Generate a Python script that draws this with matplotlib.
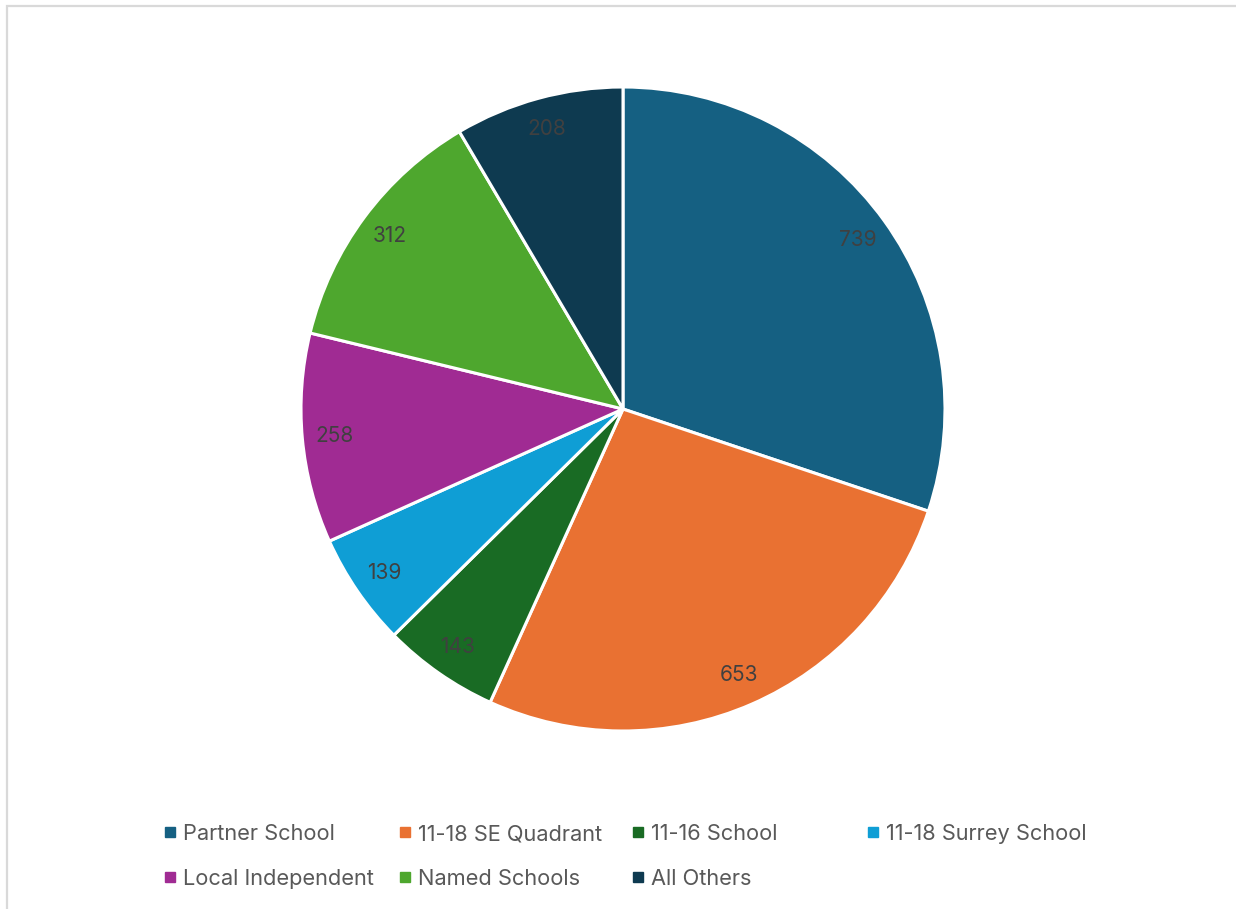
import matplotlib.pyplot as plt
from matplotlib.lines import Line2D
from matplotlib.patches import Rectangle

# --- Data ---
categories = ["Partner School", "11-18 SE Quadrant", "11-16 School", "11-18 Surrey School",
              "Local Independent", "Named Schools", "All Others"]
counts = [739, 653, 143, 139, 258, 312, 208]
colors = ["#156082", "#E97132", "#196B24", "#0F9ED5", "#A02B93", "#4EA72E", "#0E3A50"]

# legend grid: (column, row) for each category, filled row by row
legend_cols = [0, 1, 2, 3, 0, 1, 2]
legend_rows = [0, 0, 0, 0, 1, 1, 1]

W, H = 1236, 909
plt.rcParams['font.family'] = ['Inter', 'DejaVu Sans']

fig = plt.figure(figsize=(W / 100, H / 100), dpi=100)

# chart area border (only top/left edge visible)
fig.patches.append(Rectangle((6.5 / W, -0.1), 1.2, 1 - 6 / H + 0.1, transform=fig.transFigure,
                             fill=False, edgecolor="#D9D9D9", linewidth=1.6))

cx, cy, r = 623, 409, 322
ax = fig.add_axes([(cx - r) / W, (H - cy - r) / H, 2 * r / W, 2 * r / H])
total = sum(counts)
wedges, texts, autotexts = ax.pie(
    counts, colors=colors, startangle=90, counterclock=False, radius=1,
    autopct=lambda p: f"{round(p * total / 100):d}", pctdistance=0.9,
    wedgeprops=dict(edgecolor="white", linewidth=2.2),
    textprops=dict(color="#404040", fontsize=15))
ax.set_xlim(-1, 1)
ax.set_ylim(-1, 1)
ax.set_aspect("equal")
ax.axis("off")

# legend: one entry per cell, evenly spaced columns
col_x = [163, 398, 631, 866]
row_y = [834, 879]
for name, color, c, rr in zip(categories, colors, legend_cols, legend_rows):
    h = Line2D([], [], linestyle="none", marker="s", markersize=6.5,
               markerfacecolor=color, markeredgecolor=color)
    fig.legend([h], [name], loc="center left",
               bbox_to_anchor=(col_x[c] / W, 1 - row_y[rr] / H),
               frameon=False, fontsize=15.7, labelcolor="#595959",
               handlelength=0.65, handletextpad=0.28, borderpad=0, borderaxespad=0)

fig.savefig("out.png", dpi=100)
